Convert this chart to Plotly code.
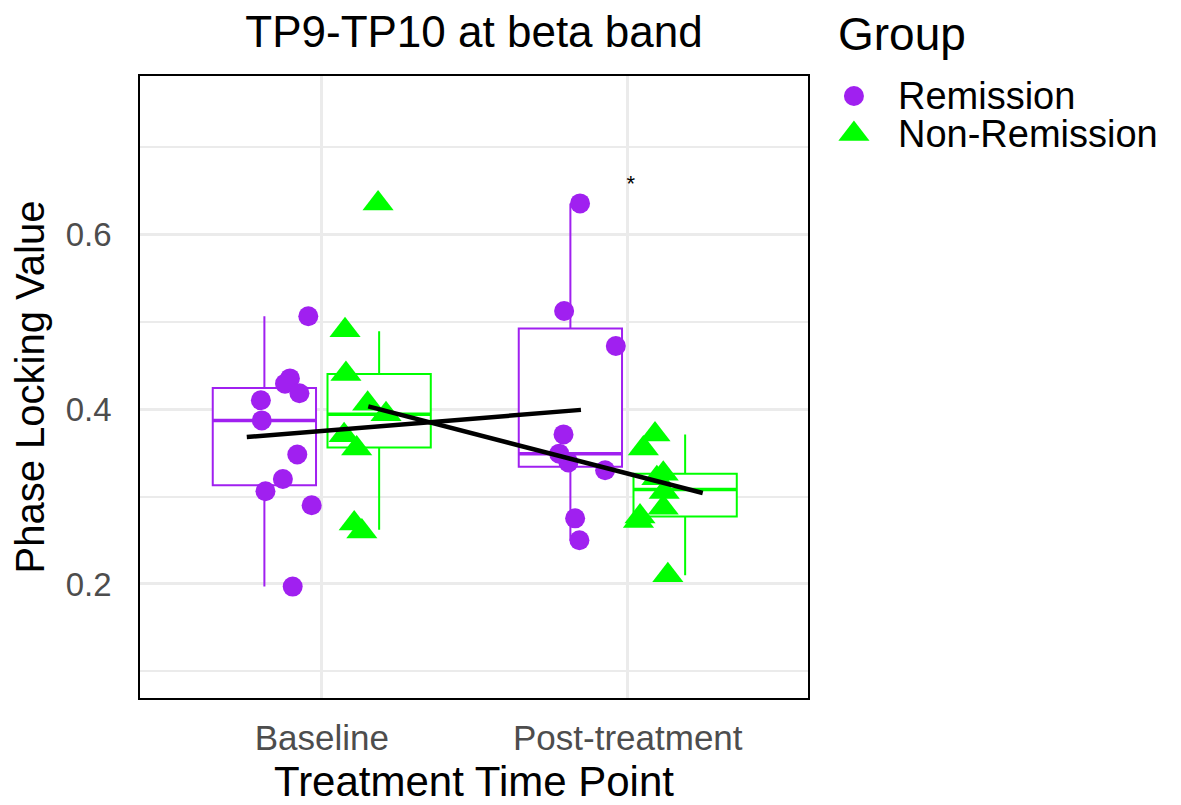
import plotly.graph_objects as go

# ---------------- data ----------------
time_points = ["Baseline", "Post-treatment"]
time_index = [1, 2]
groups = ["Remission", "Non-Remission"]

# individual observations: x = jittered position in category units, y = PLV
rem_base_x = [0.956, 0.896, 0.880, 0.927, 0.801, 0.804, 0.920, 0.873, 0.816, 0.967, 0.905]
rem_base_y = [0.506, 0.435, 0.429, 0.418, 0.410, 0.387, 0.348, 0.320, 0.306, 0.290, 0.197]
rem_post_x = [1.844, 1.792, 1.961, 1.790, 1.776, 1.806, 1.926, 1.828, 1.842]
rem_post_y = [0.635, 0.512, 0.472, 0.371, 0.349, 0.339, 0.330, 0.275, 0.250]
non_base_x = [1.184, 1.076, 1.079, 1.150, 1.210, 1.073, 1.114, 1.106, 1.131]
non_base_y = [0.635, 0.490, 0.440, 0.406, 0.394, 0.370, 0.355, 0.269, 0.260]
non_post_x = [2.089, 2.051, 2.116, 2.095, 2.119, 2.116, 2.040, 2.035, 2.131]
non_post_y = [0.371, 0.355, 0.326, 0.321, 0.305, 0.287, 0.277, 0.272, 0.210]

# box statistics per time point (Baseline, Post-treatment)
rem_q1 = [0.313, 0.334]
rem_median = [0.387, 0.349]
rem_q3 = [0.424, 0.492]
rem_lower = [0.197, 0.250]
rem_upper = [0.506, 0.635]
non_q1 = [0.356, 0.277]
non_median = [0.394, 0.308]
non_q3 = [0.440, 0.326]
non_lower = [0.262, 0.210]
non_upper = [0.489, 0.371]

# fitted trend lines
rem_trend_x = [0.755, 1.847]
rem_trend_y = [0.368, 0.399]
non_trend_x = [1.152, 2.245]
non_trend_y = [0.403, 0.304]

# significance marker
sig_x = [2.01]
sig_y = [0.655]
sig_text = ["*"]

y_ticks = [0.2, 0.4, 0.6]

# ---------------- style ----------------
FONT = "Liberation Sans, Arial, Helvetica, sans-serif"
PURPLE = "#A020F0"
GREEN = "#00FF00"
DODGE = 0.1875
BOXW = 0.3375
OFF = 8  # page body margin
W, H = 1181 - OFF, 805 - OFF
PL, PR, PT, PB = 140 - OFF, 808 - OFF, 76 - OFF, 698 - OFF

fig = go.Figure()

def add_group(offset, color, q1, med, q3, lo, hi):
    xs = [t + offset for t in time_index]
    fig.add_trace(go.Box(
        x=xs, q1=q1, median=med, q3=q3, lowerfence=lo, upperfence=hi,
        width=BOXW, boxpoints=False, fillcolor="white", whiskerwidth=0,
        line=dict(color=color, width=2), showlegend=False, hoverinfo="skip"))
    for xc, m in zip(xs, med):
        fig.add_trace(go.Scatter(
            x=[xc - BOXW / 2, xc + BOXW / 2], y=[m, m], mode="lines",
            line=dict(color=color, width=3.5), showlegend=False, hoverinfo="skip"))

add_group(-DODGE, PURPLE, rem_q1, rem_median, rem_q3, rem_lower, rem_upper)
add_group(DODGE, GREEN, non_q1, non_median, non_q3, non_lower, non_upper)

circle = dict(symbol="circle", size=20, color=PURPLE, line=dict(width=0))
tri = dict(symbol="triangle-up", size=27, color=GREEN, line=dict(width=0))

fig.add_trace(go.Scatter(x=rem_base_x + rem_post_x, y=rem_base_y + rem_post_y,
                         mode="markers", marker=circle, showlegend=False))
fig.add_trace(go.Scatter(x=non_base_x + non_post_x, y=non_base_y + non_post_y,
                         mode="markers", marker=tri, showlegend=False))

for tx, ty in [(rem_trend_x, rem_trend_y), (non_trend_x, non_trend_y)]:
    fig.add_trace(go.Scatter(x=tx, y=ty, mode="lines",
                             line=dict(color="black", width=4.5), showlegend=False))

fig.add_trace(go.Scatter(x=sig_x, y=sig_y, mode="text", text=sig_text,
                         textfont=dict(family=FONT, size=22, color="black"),
                         showlegend=False))

# custom legend on a helper axis
leg_y = [1, 0]
fig.add_trace(go.Scatter(x=[0.052], y=[leg_y[0]], mode="markers", marker=circle,
                         xaxis="x2", yaxis="y2", showlegend=False))
fig.add_trace(go.Scatter(x=[0.052], y=[leg_y[1]], mode="markers", marker=tri,
                         xaxis="x2", yaxis="y2", showlegend=False))
for g, yy in zip(groups, leg_y):
    fig.add_annotation(x=0.175, y=yy, xref="x2", yref="y2", text=g, showarrow=False,
                       xanchor="left", yanchor="middle",
                       font=dict(family=FONT, size=38, color="black"))
fig.add_annotation(x=(836 - OFF) / W, y=1 - (34 - OFF) / H, xref="paper", yref="paper",
                   text="Group", showarrow=False, xanchor="left", yanchor="middle",
                   font=dict(family=FONT, size=46, color="black"))

fig.update_layout(
    width=W, height=H, autosize=False,
    margin=dict(l=0, r=0, t=0, b=0),
    paper_bgcolor="white", plot_bgcolor="white",
    font=dict(family=FONT, color="black"),
    title=dict(text="TP9-TP10 at beta band", x=(PL + PR) / 2 / W, xanchor="center",
               y=1 - (32 - OFF) / H, yanchor="middle", xref="paper", yref="paper",
               font=dict(family=FONT, size=44, color="black")),
    xaxis=dict(domain=[PL / W, PR / W], range=[0.406, 2.589],
               tickvals=time_index, ticktext=time_points,
               tickfont=dict(family=FONT, size=35, color="#4D4D4D"),
               ticklabelstandoff=8,
               showgrid=True, gridcolor="#EBEBEB", gridwidth=3, zeroline=False,
               showline=True, linecolor="black", linewidth=1.5, mirror=True,
               title=dict(text="Treatment Time Point", standoff=12,
                          font=dict(family=FONT, size=42, color="black"))),
    yaxis=dict(domain=[1 - PB / H, 1 - PT / H], range=[0.0697, 0.7806],
               tickvals=y_ticks, ticktext=[f"{v:.1f}" for v in y_ticks],
               tickfont=dict(family=FONT, size=33, color="#4D4D4D"),
               ticklabelstandoff=20,
               showgrid=True, gridcolor="#EBEBEB", gridwidth=3, zeroline=False,
               minor=dict(dtick=0.1, tick0=0.1, showgrid=True, gridcolor="#EBEBEB", gridwidth=1.5),
               showline=True, linecolor="black", linewidth=1.5, mirror=True,
               title=dict(text="Phase Locking Value", standoff=10,
                          font=dict(family=FONT, size=40, color="black"))),
    xaxis2=dict(domain=[(836 - OFF) / W, 1.0], range=[0, 1], visible=False, fixedrange=True,
                anchor="y2"),
    yaxis2=dict(domain=[1 - (153 - OFF) / H, 1 - (77 - OFF) / H], range=[-0.5, 1.5],
                visible=False, fixedrange=True, anchor="x2"),
)

fig.write_html("out.html")
